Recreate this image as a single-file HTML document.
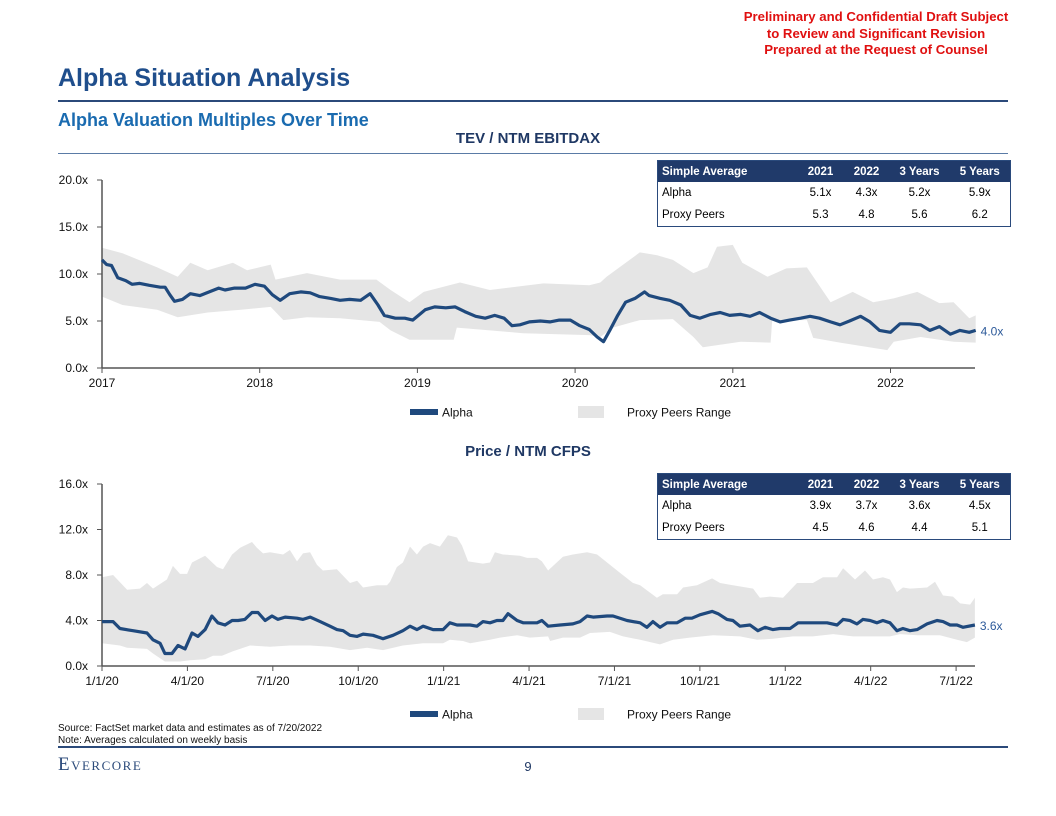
<!DOCTYPE html>
<html><head><meta charset="utf-8">
<style>
body{margin:0;background:#fff;}
#page{position:relative;width:1056px;height:816px;overflow:hidden;font-family:"Liberation Sans",Arial,sans-serif;}
.abs{position:absolute;white-space:nowrap;}
table.avg{position:absolute;border-collapse:collapse;border:1.5px solid #2a4a7c;font-size:11.5px;table-layout:fixed;}
table.avg td{padding:0 4px;height:22px;overflow:hidden;}
table.avg tr.h td{background:#203a6a;color:#fff;font-weight:bold;height:21px;}
table.avg td.n{text-align:center;padding:0;}
</style></head>
<body>
<div id="page">
<div class="abs" style="left:731px;top:9px;width:290px;text-align:center;color:#e01010;font-weight:bold;font-size:13.2px;line-height:16.5px;">Preliminary and Confidential Draft Subject<br>to Review and Significant Revision<br>Prepared at the Request of Counsel</div>
<div class="abs" style="left:58px;top:64px;font-size:25px;font-weight:bold;color:#1f4e8c;">Alpha Situation Analysis</div>
<div class="abs" style="left:58px;top:100px;width:950px;height:2px;background:#2b4a7a;"></div>
<div class="abs" style="left:58px;top:110px;font-size:18px;font-weight:bold;color:#1a6bb0;">Alpha Valuation Multiples Over Time</div>
<div class="abs" style="left:58px;top:153px;width:950px;height:1px;background:#5a7ba6;"></div>
<div class="abs" style="left:328px;top:130px;width:400px;text-align:center;font-size:15px;font-weight:bold;color:#1f3864;">TEV / NTM EBITDAX</div>
<div class="abs" style="left:328px;top:443px;width:400px;text-align:center;font-size:15px;font-weight:bold;color:#1f3864;">Price / NTM CFPS</div>

<table class="avg" style="left:657px;top:160px;width:353px;">
<colgroup><col style="width:140px"><col style="width:46px"><col style="width:46px"><col style="width:60px"><col style="width:61px"></colgroup>
<tr class="h"><td>Simple Average</td><td class="n">2021</td><td class="n">2022</td><td class="n">3 Years</td><td class="n">5 Years</td></tr>
<tr><td>Alpha</td><td class="n">5.1x</td><td class="n">4.3x</td><td class="n">5.2x</td><td class="n">5.9x</td></tr>
<tr><td>Proxy Peers</td><td class="n">5.3</td><td class="n">4.8</td><td class="n">5.6</td><td class="n">6.2</td></tr>
</table>
<table class="avg" style="left:657px;top:473px;width:353px;">
<colgroup><col style="width:140px"><col style="width:46px"><col style="width:46px"><col style="width:60px"><col style="width:61px"></colgroup>
<tr class="h"><td>Simple Average</td><td class="n">2021</td><td class="n">2022</td><td class="n">3 Years</td><td class="n">5 Years</td></tr>
<tr><td>Alpha</td><td class="n">3.9x</td><td class="n">3.7x</td><td class="n">3.6x</td><td class="n">4.5x</td></tr>
<tr><td>Proxy Peers</td><td class="n">4.5</td><td class="n">4.6</td><td class="n">4.4</td><td class="n">5.1</td></tr>
</table>

<svg id="charts" width="1056" height="816" style="position:absolute;left:0;top:0;" font-family="Liberation Sans, Arial, sans-serif"></svg>

<div class="abs" style="left:58px;top:723px;font-size:10px;line-height:12px;color:#111;">Source: FactSet market data and estimates as of 7/20/2022<br>Note: Averages calculated on weekly basis</div>
<div class="abs" style="left:58px;top:746px;width:950px;height:2px;background:#2b4a7a;"></div>
<div class="abs" style="left:58px;top:754px;font-family:'Liberation Serif',serif;font-size:19px;color:#2b4a7a;font-variant:small-caps;letter-spacing:1.5px;">Evercore</div>
<div class="abs" style="left:518px;top:759px;width:20px;text-align:center;font-size:13px;color:#1f3864;">9</div>
</div>

<script>
// ---------- Chart 1 data (x = years since 1/1/2017) ----------
const c1AlphaX=[0,.03,.06,.10,.15,.19,.24,.30,.37,.40,.43,.46,.51,.56,.62,.68,.74,.78,.84,.91,.97,1.03,1.08,1.13,1.19,1.26,1.32,1.38,1.45,1.51,1.57,1.64,1.70,1.75,1.79,1.86,1.92,1.97,2.00,2.05,2.11,2.18,2.24,2.30,2.37,2.43,2.49,2.55,2.60,2.65,2.71,2.78,2.84,2.90,2.97,3.03,3.09,3.14,3.18,3.22,3.27,3.32,3.38,3.44,3.47,3.54,3.60,3.67,3.73,3.79,3.86,3.92,3.98,4.05,4.11,4.17,4.24,4.30,4.36,4.43,4.49,4.55,4.62,4.68,4.74,4.81,4.87,4.93,5.00,5.06,5.12,5.19,5.25,5.31,5.38,5.44,5.50,5.54];
const c1AlphaV=[11.5,11.0,10.9,9.6,9.3,8.9,9.0,8.8,8.6,8.6,7.8,7.1,7.3,7.9,7.7,8.1,8.5,8.3,8.5,8.5,8.9,8.7,7.8,7.2,7.9,8.1,8.0,7.6,7.4,7.2,7.3,7.2,7.9,6.7,5.6,5.3,5.3,5.1,5.5,6.2,6.5,6.4,6.5,6.0,5.5,5.3,5.6,5.3,4.5,4.6,4.9,5.0,4.9,5.1,5.1,4.5,4.1,3.3,2.8,4.0,5.6,7.0,7.4,8.1,7.7,7.4,7.2,6.7,5.6,5.3,5.7,5.9,5.6,5.7,5.5,5.9,5.3,4.9,5.1,5.3,5.5,5.3,4.9,4.6,5.0,5.5,4.9,4.0,3.8,4.7,4.7,4.6,4.0,4.4,3.6,4.0,3.8,4.0];
const c1UpX=[0,.13,.35,.48,.56,.67,.83,.92,1.07,1.10,1.30,1.51,1.74,1.83,1.95,2.04,2.27,2.46,2.80,3.09,3.16,3.20,3.33,3.41,3.52,3.62,3.75,3.84,3.90,4.00,4.06,4.22,4.34,4.47,4.62,4.76,4.89,5.02,5.17,5.31,5.40,5.50,5.54];
const c1UpV=[12.8,12.2,10.7,9.7,11.2,10.4,11.2,10.4,11.0,9.4,10.1,9.4,9.4,8.3,7.0,8.1,9.1,8.3,9.0,8.8,9.1,9.7,11.3,12.3,12.0,11.5,10.1,10.7,12.9,13.1,11.2,9.7,10.6,10.7,7.0,8.1,7.0,7.4,8.1,6.9,7.0,5.3,5.6];
const c1LoX=[0,.13,.35,.48,.67,.88,1.07,1.15,1.30,1.51,1.76,1.83,1.95,2.23,2.25,2.46,2.67,3.09,3.16,3.24,3.41,3.62,3.75,3.81,4.05,4.24,4.25,4.47,4.51,4.68,4.98,5.02,5.19,5.31,5.40,5.54];
const c1LoV=[7.6,6.7,6.2,5.4,5.9,6.2,6.5,5.1,5.4,5.3,4.9,4.0,3.0,3.0,4.3,4.0,3.7,3.5,3.3,4.3,5.1,5.2,3.3,2.2,2.8,2.7,5.1,5.1,3.2,2.7,1.9,2.8,3.3,3.0,2.8,2.7];
const c1YTicks=[0,5,10,15,20];
const c1XTicks=[0,1,2,3,4,5];
const c1XLabels=["2017","2018","2019","2020","2021","2022"];
const c1LastLabel="4.0x";

// ---------- Chart 2 data (x = months since 1/1/2020) ----------
const c2AlphaX=[0,.39,.63,1.09,1.58,1.79,2.04,2.21,2.46,2.67,2.92,3.16,3.37,3.62,3.86,4.07,4.32,4.57,4.78,5.02,5.27,5.48,5.73,5.97,6.18,6.43,6.85,7.06,7.31,7.66,8.01,8.25,8.47,8.71,8.96,9.17,9.52,9.87,10.22,10.57,10.82,11.06,11.28,11.63,11.98,12.22,12.47,12.93,13.17,13.38,13.63,13.87,14.08,14.26,14.58,14.79,15.28,15.45,15.67,16.09,16.54,16.79,17.04,17.25,17.74,17.95,18.44,18.90,19.14,19.35,19.60,19.85,20.20,20.48,20.72,21.00,21.43,21.64,21.95,22.16,22.41,22.76,23.04,23.29,23.57,23.81,24.17,24.45,24.97,25.47,25.82,26.03,26.27,26.52,26.73,26.98,27.22,27.43,27.68,27.92,28.13,28.38,28.63,28.98,29.33,29.54,29.79,30.03,30.24,30.66];
const c2AlphaV=[3.9,3.9,3.3,3.1,2.9,2.3,2.0,1.1,1.1,1.8,1.5,2.9,2.6,3.2,4.4,3.8,3.6,4.0,4.0,4.1,4.7,4.7,4.0,4.4,4.1,4.3,4.2,4.1,4.3,3.9,3.5,3.2,3.1,2.7,2.6,2.8,2.7,2.4,2.7,3.1,3.5,3.2,3.5,3.2,3.2,3.8,3.6,3.6,3.5,3.9,3.8,4.0,4.0,4.6,4.0,3.8,3.8,4.0,3.5,3.6,3.7,3.9,4.4,4.3,4.4,4.4,4.0,3.8,3.4,3.9,3.4,3.8,3.8,4.2,4.2,4.5,4.8,4.6,4.1,4.0,3.5,3.6,3.1,3.4,3.2,3.3,3.3,3.8,3.8,3.8,3.6,4.1,4.0,3.7,4.1,4.0,3.8,4.0,3.8,3.1,3.3,3.1,3.2,3.7,4.0,3.9,3.6,3.6,3.4,3.6];
const c2UpX=[0,.39,.88,1.33,1.58,1.79,2.28,2.49,2.74,2.99,3.16,3.62,4.04,4.25,4.57,4.85,5.27,5.44,5.66,5.90,6.36,6.60,6.85,7.06,7.31,7.55,7.76,8.25,8.71,8.96,9.17,9.66,10.01,10.12,10.36,10.57,10.82,11.06,11.28,11.52,11.87,12.15,12.47,12.64,12.86,13.38,13.63,13.80,14.08,14.68,14.93,15.28,15.45,15.67,16.19,16.54,17.04,17.39,17.74,18.19,18.65,18.90,19.49,19.70,20.20,20.41,20.90,21.43,21.71,22.16,22.87,23.11,23.46,23.92,24.41,24.97,25.32,25.82,26.03,26.45,26.80,27.08,27.43,27.68,27.92,28.13,28.38,28.98,29.26,29.54,29.89,30.14,30.49,30.66];
const c2UpV=[7.8,8.0,6.7,6.8,7.3,6.8,7.6,8.8,8.1,8.1,9.1,9.7,8.7,8.5,9.8,10.4,10.9,10.4,9.9,10.0,9.8,10.2,9.2,9.9,10.0,8.9,8.4,8.5,7.3,7.5,6.9,7.1,7.1,7.4,8.7,9.1,10.5,9.8,10.5,10.8,10.5,11.5,11.3,10.6,9.2,9.0,9.1,10.0,9.8,9.7,9.5,9.5,9.2,8.4,9.6,9.8,10.0,9.8,9.1,8.2,7.3,7.1,6.0,6.3,6.3,6.9,7.1,7.7,7.3,7.1,6.8,6.0,6.1,6.0,7.3,7.3,7.8,7.8,8.6,7.6,8.4,7.6,7.8,7.6,6.5,6.9,6.8,6.9,7.4,6.2,6.1,5.5,5.4,6.0];
const c2LoX=[0,.63,.88,1.58,1.79,2.21,2.74,3.09,3.62,3.90,4.21,4.60,5.20,5.90,6.60,7.31,8.01,8.71,9.31,9.87,10.57,11.28,11.98,12.22,12.68,12.93,13.63,13.98,14.58,15.03,15.67,15.74,16.19,16.79,17.14,17.84,18.30,18.90,19.60,20.06,20.65,21.46,22.41,23.01,23.57,24.27,24.97,25.68,26.38,26.98,27.68,28.03,28.63,29.43,30.03,30.38,30.66];
const c2LoV=[2.0,1.8,1.6,1.5,1.1,0.4,0.4,0.5,0.6,0.9,0.9,1.3,1.8,1.7,1.8,1.8,1.7,1.4,1.6,1.4,1.8,2.0,2.0,2.3,2.2,2.0,2.3,2.5,2.7,2.5,2.6,2.2,2.5,2.5,2.9,3.0,2.6,2.3,1.9,2.3,2.5,2.7,2.6,2.3,2.4,2.6,2.6,2.8,2.6,2.6,2.6,2.8,2.7,2.7,2.3,2.1,2.5];
const c2YTicks=[0,4,8,12,16];
const c2YLabels=["0.0x","4.0x","8.0x","12.0x","16.0x"];
const c2XTicks=[0,3,6,9,12,15,18,21,24,27,30];
const c2XLabels=["1/1/20","4/1/20","7/1/20","10/1/20","1/1/21","4/1/21","7/1/21","10/1/21","1/1/22","4/1/22","7/1/22"];
const c2LastLabel="3.6x";

const NS="http://www.w3.org/2000/svg";
const svg=document.getElementById('charts');
function mk(tag,attrs){const e=document.createElementNS(NS,tag);for(const k in attrs)e.setAttribute(k,attrs[k]);svg.appendChild(e);return e;}

function drawChart(cfg){
  const sx=v=>cfg.x0+(v-cfg.xmin)*cfg.xpx;
  const sy=v=>cfg.y0-(v-cfg.ymin)*(cfg.y0-cfg.y1)/(cfg.ymax-cfg.ymin);
  let d='M'+cfg.upX.map((x,i)=>sx(x).toFixed(1)+','+sy(cfg.upV[i]).toFixed(1)).join('L');
  for(let i=cfg.loX.length-1;i>=0;i--)d+='L'+sx(cfg.loX[i]).toFixed(1)+','+sy(cfg.loV[i]).toFixed(1);
  d+='Z';
  const band=mk('path',{d:d,fill:'#e5e5e5'});
  
  
  const ya=mk('line',{x1:cfg.x0,y1:cfg.y1,x2:cfg.x0,y2:cfg.y0,stroke:'#555','stroke-width':1.5});
  
  
  const xa=mk('line',{x1:cfg.x0,y1:cfg.y0,x2:cfg.xend,y2:cfg.y0,stroke:'#555','stroke-width':1.5});
  
  
  cfg.yTicks.forEach((t,i)=>{
    const y=sy(t);
    mk('line',{x1:cfg.x0-5,y1:y,x2:cfg.x0,y2:y,stroke:'#555','stroke-width':1});
    const tx=mk('text',{x:cfg.x0-14,y:y+4,'text-anchor':'end','font-size':12,fill:'#111'});
    tx.textContent=cfg.yLabels[i];
    
    
  });
  cfg.xTicks.forEach((t,i)=>{
    const x=sx(t);
    mk('line',{x1:x,y1:cfg.y0,x2:x,y2:cfg.y0+5,stroke:'#555','stroke-width':1});
    const tx=mk('text',{x:x,y:cfg.y0+19,'text-anchor':'middle','font-size':12,fill:'#111'});
    tx.textContent=cfg.xLabels[i];
    
    
  });
  const pts=cfg.aX.map((x,i)=>sx(x).toFixed(1)+','+sy(cfg.aV[i]).toFixed(1)).join(' ');
  const ln=mk('polyline',{points:pts,fill:'none',stroke:'#1f497d','stroke-width':3.2,'stroke-linejoin':'round'});
  
  
  const lastX=sx(cfg.aX[cfg.aX.length-1]), lastY=sy(cfg.aV[cfg.aV.length-1]);
  const lab=mk('text',{x:lastX+5,y:lastY+5,'font-size':12,fill:'#2d5a9a'});
  lab.textContent=cfg.last;
  
  
  const ly=cfg.legendY;
  const ls=mk('rect',{x:410,y:ly-3,width:28,height:6,fill:'#1f497d'});
  
  
  const lt=mk('text',{x:442,y:ly+4.5,'font-size':12,fill:'#111'});
  lt.textContent='Alpha';
  
  
  const gs=mk('rect',{x:578,y:ly-6,width:26,height:12,fill:'#e5e5e5'});
  
  
  const gt=mk('text',{x:627,y:ly+4.5,'font-size':12,fill:'#111'});
  gt.textContent='Proxy Peers Range';
  
  
}

drawChart({id:'ebitdax-chart',x0:102,xmin:0,xpx:157.7,xend:975,y0:368,y1:180,ymin:0,ymax:20,
  aX:c1AlphaX,aV:c1AlphaV,upX:c1UpX,upV:c1UpV,loX:c1LoX,loV:c1LoV,
  yTicks:c1YTicks,yLabels:c1YTicks.map(v=>v.toFixed(1)+'x'),xTicks:c1XTicks,xLabels:c1XLabels,last:c1LastLabel,legendY:412});
drawChart({id:'cfps-chart',x0:102,xmin:0,xpx:28.47,xend:975,y0:666,y1:484,ymin:0,ymax:16,
  aX:c2AlphaX,aV:c2AlphaV,upX:c2UpX,upV:c2UpV,loX:c2LoX,loV:c2LoV,
  yTicks:c2YTicks,yLabels:c2YLabels,xTicks:c2XTicks,xLabels:c2XLabels,last:c2LastLabel,legendY:714});
</script>
</body></html>
